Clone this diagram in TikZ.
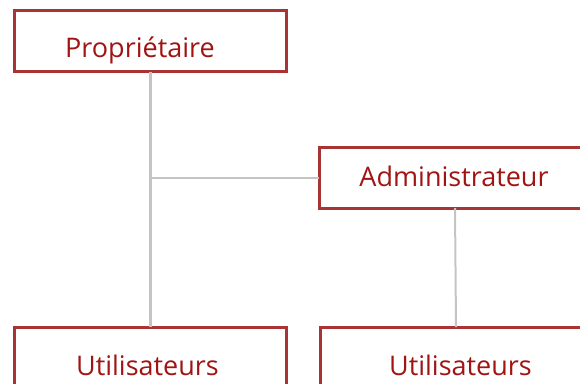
\documentclass[tikz,border=0pt]{standalone}
\usepackage{fontspec}
\setmainfont{Open Sans}
\definecolor{boxred}{HTML}{A83434}
\definecolor{txtred}{HTML}{A01414}
\definecolor{linegray}{HTML}{C4C4C4}
\begin{document}
\begin{tikzpicture}[x=1pt,y=-1pt,
  box/.style={draw=boxred,line width=3pt,fill=white,minimum width=272pt,minimum height=61pt,inner sep=0pt,outer sep=0pt},
  lbl/.style={text=txtred,font=\fontsize{27}{30}\selectfont,anchor=base,inner sep=0pt},
  conn/.style={draw=linegray,line width=2.5pt}]
\useasboundingbox (0,0) rectangle (580,383);
\begin{scope}
\clip (0,0) rectangle (580,383);
\node[box] (prop) at (150.5,41) {};
\node[box] (admin) at (455,177.5) {};
\node[box] (utilL) at (150.5,357.5) {};
\node[box] (utilR) at (456,357.5) {};
\coordinate (j) at (prop.south |- admin.west);
\draw[conn] (prop.south) -- (utilL.north);
\draw[conn,line width=2pt] (j) -- (admin.west);
\draw[conn,line width=2pt] (admin.south) -- (utilR.north);
\node[lbl] (tprop) at (140,57.3) {Propriétaire};
\node[lbl] (tadmin) at (454,186.7) {Administrateur};
\node[lbl] (tutilL) at (147.5,375) {Utilisateurs};
\node[lbl] (tutilR) at (460.5,375) {Utilisateurs};
\end{scope}
\end{tikzpicture}
\end{document}
